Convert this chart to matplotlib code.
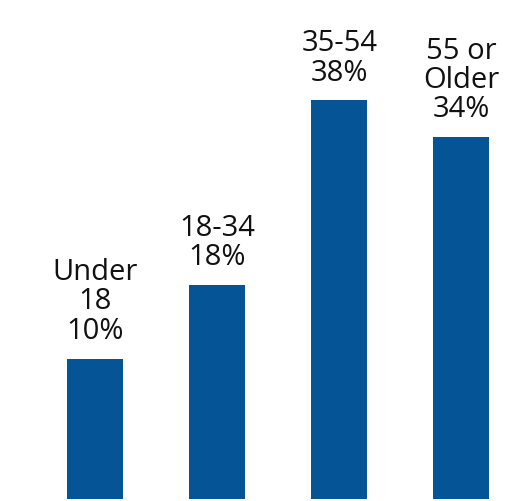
import numpy as np
import matplotlib.pyplot as plt

plt.rcParams['font.family'] = ['Open Sans', 'DejaVu Sans']

groups = ['Under\n18', '18-34', '35-54', '55 or\nOlder']
shares = [10, 18, 38, 34]

bar_color = '#055596'
y_floor = -5.2

fig = plt.figure(figsize=(5.18, 5.02), dpi=100)
ax = fig.add_axes([0, 2 / 502, 1, 500 / 502])

x = np.arange(len(groups))
vals = np.array(shares, dtype=float)
# bars start below zero, as in the source graphic
bars = ax.bar(x, vals - y_floor, bottom=y_floor, width=0.46, color=bar_color)

for xi, v, g in zip(x, vals, groups):
    ax.annotate(f'{g}\n{v:.0f}%', (xi, v), xytext=(0, 10), textcoords='offset points',
                ha='center', va='bottom', fontsize=21, linespacing=1.02, color='#111111')

ax.set_xlim(-0.783, 3.466)
ax.set_ylim(y_floor, 49)
ax.axis('off')

fig.savefig('out.png', dpi=100)
